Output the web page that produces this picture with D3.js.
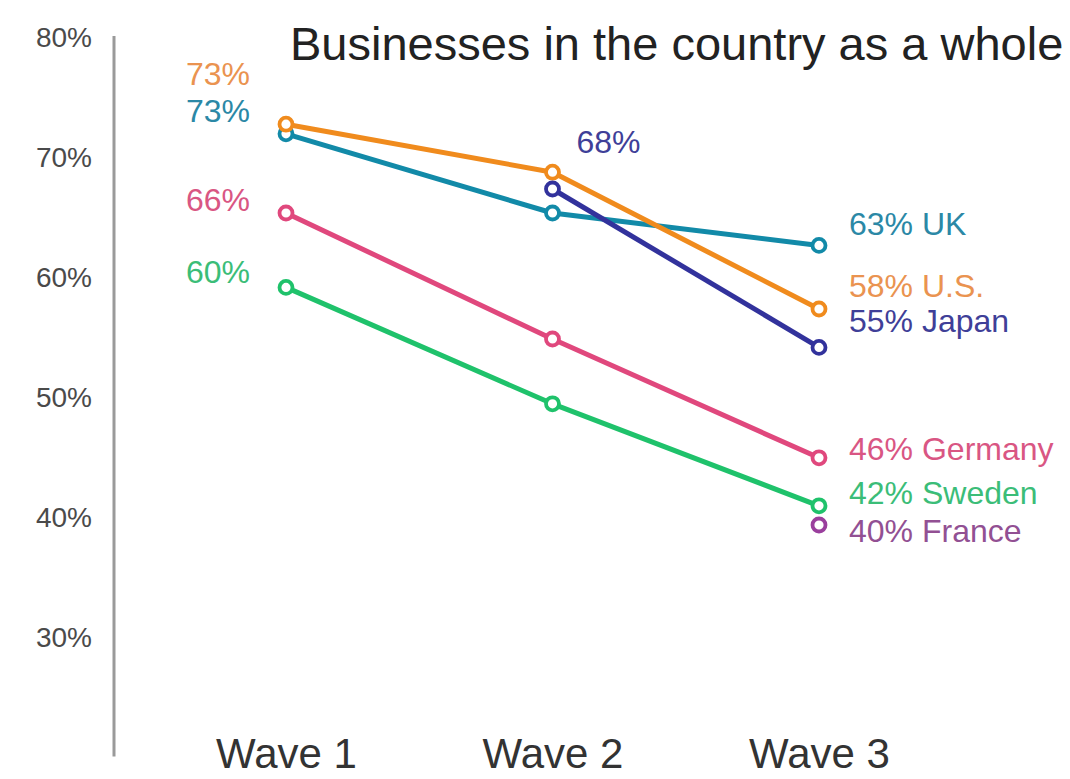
<!DOCTYPE html>
<html>
<head>
<meta charset="utf-8">
<script src="https://cdn.jsdelivr.net/npm/d3@7"></script>
<style>
  html, body { margin: 0; padding: 0; background: #fff; }
  svg { display: block; font-family: "Liberation Sans", Arial, Helvetica, sans-serif; }
</style>
</head>
<body>
<svg id="chart" width="1070" height="779"></svg>
<script>
// Share of respondents per survey wave
const waves = ["Wave 1", "Wave 2", "Wave 3"];
const countries = ["Sweden", "Germany", "UK", "U.S.", "Japan", "France"];
const swedenValues  = [59.8, 50.1, 41.6];
const germanyValues = [66.0, 55.5, 45.6];
const ukValues      = [72.6, 66.0, 63.3];
const usValues      = [73.4, 69.4, 58.0];
const japanValues   = [null, 68.0, 54.8];
const franceValues  = [null, null, 40.0];
const yTicks = [30, 40, 50, 60, 70, 80];
const titleText = "Businesses in the country as a whole";

const seriesValues = {
  "Sweden": swedenValues, "Germany": germanyValues, "UK": ukValues,
  "U.S.": usValues, "Japan": japanValues, "France": franceValues
};

const lineColors = {
  "Sweden": "#1fc26b", "Germany": "#e0487d", "UK": "#128aa8",
  "U.S.": "#f08b1d", "Japan": "#32329c", "France": "#9a3f9d"
};
const labelColors = {
  "Sweden": "#3bbd78", "Germany": "#d95683", "UK": "#2b88a6",
  "U.S.": "#ea9350", "Japan": "#3f3f98", "France": "#925093"
};

// Where each value label sits relative to its point (pixels), and whether it names the country
const labelSpots = [
  { country: "U.S.",    wave: 0, anchor: "end",   dx: -36, dy: -39, named: false },
  { country: "UK",      wave: 0, anchor: "end",   dx: -36, dy: -12, named: false },
  { country: "Germany", wave: 0, anchor: "end",   dx: -36, dy: -2,  named: false },
  { country: "Sweden",  wave: 0, anchor: "end",   dx: -36, dy: -4,  named: false },
  { country: "Japan",   wave: 1, anchor: "start", dx: 24,  dy: -36, named: false },
  { country: "UK",      wave: 2, anchor: "start", dx: 30,  dy: -10, named: true },
  { country: "U.S.",    wave: 2, anchor: "start", dx: 30,  dy: -12, named: true },
  { country: "Japan",   wave: 2, anchor: "start", dx: 30,  dy: -15, named: true },
  { country: "Germany", wave: 2, anchor: "start", dx: 30,  dy: 2,   named: true },
  { country: "Sweden",  wave: 2, anchor: "start", dx: 30,  dy: -2,  named: true },
  { country: "France",  wave: 2, anchor: "start", dx: 30,  dy: 17,  named: true }
];

const svg = d3.select("#chart");

const y = d3.scaleLinear().domain([20, 80]).range([765, 45]);
const x = d3.scalePoint().domain(waves).range([286, 819]);
const fmt = d3.format(".0f");

// Vertical axis rule
svg.append("line")
  .attr("x1", 114).attr("x2", 114)
  .attr("y1", y(80.75)).attr("y2", y(20.7))
  .attr("stroke", "#9a9a9a").attr("stroke-width", 3);

// Percentage ticks
svg.append("g")
  .attr("transform", "translate(92,0)")
  .call(d3.axisLeft(y).tickValues(yTicks).tickSize(0).tickPadding(0).tickFormat(d => d + "%"))
  .call(g => g.select(".domain").remove())
  .call(g => g.selectAll("text")
    .attr("x", 0).attr("dy", "0.07em")
    .attr("fill", "#4a4a4a")
    .style("font-size", "28px")
    .style("font-family", "'Liberation Sans', Arial, sans-serif"));

// Wave labels
svg.append("g")
  .attr("transform", "translate(0,768)")
  .call(d3.axisBottom(x).tickSize(0).tickPadding(0))
  .call(g => g.select(".domain").remove())
  .call(g => g.selectAll("text")
    .attr("y", 0).attr("dy", 0)
    .attr("fill", "#333")
    .style("font-size", "42px")
    .style("font-family", "'Liberation Sans', Arial, sans-serif"));

// Title
svg.append("text")
  .attr("x", 290).attr("y", 60)
  .attr("fill", "#222")
  .style("font-size", "47px")
  .text(titleText);

const line = d3.line()
  .defined(d => d.v != null)
  .x(d => x(d.wave))
  .y(d => y(d.v));

countries.forEach(c => {
  const pts = waves.map((w, i) => ({ wave: w, v: seriesValues[c][i] }));
  const g = svg.append("g").attr("class", "series");
  g.append("path")
    .datum(pts)
    .attr("d", line)
    .attr("fill", "none")
    .attr("stroke", lineColors[c])
    .attr("stroke-width", 5)
    .attr("stroke-linejoin", "round");
  g.selectAll("circle")
    .data(pts.filter(d => d.v != null))
    .join("circle")
    .attr("cx", d => x(d.wave))
    .attr("cy", d => y(d.v))
    .attr("r", 6.5)
    .attr("fill", "#fff")
    .attr("stroke", lineColors[c])
    .attr("stroke-width", 3.8);
});

// Value labels
svg.append("g")
  .selectAll("text")
  .data(labelSpots)
  .join("text")
  .attr("x", d => x(waves[d.wave]) + d.dx)
  .attr("y", d => y(seriesValues[d.country][d.wave]) + d.dy)
  .attr("text-anchor", d => d.anchor)
  .attr("fill", d => labelColors[d.country])
  .style("font-size", "32px")
  .text(d => fmt(seriesValues[d.country][d.wave]) + "%" + (d.named ? " " + d.country : ""));
</script>
</body>
</html>
